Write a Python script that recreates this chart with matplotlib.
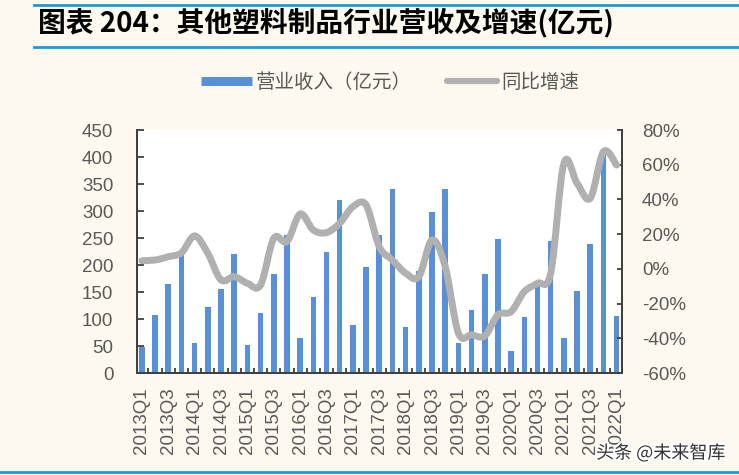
import numpy as np
import matplotlib
matplotlib.use("Agg")
import matplotlib.pyplot as plt
from matplotlib.path import Path
from matplotlib.patches import PathPatch
from matplotlib.lines import Line2D
import matplotlib.patheffects as pe

plt.rcParams['font.family'] = ['Liberation Sans', 'Noto Sans CJK SC', 'DejaVu Sans']

# quarters 2013Q1 .. 2022Q1
quarters = [f"{y}Q{q}" for y in range(2013, 2023) for q in range(1, 5)][:37]

# 营业收入（亿元）
revenue = [48, 108, 165, 222, 55, 122, 155, 220, 51, 112, 183, 255,
           65, 141, 224, 320, 88, 196, 255, 340, 86, 188, 298, 340,
           55, 117, 183, 248, 41, 103, 163, 245, 64, 151, 238, 407, 106]

# 同比增速（%）
growth = [4.7, 5.1, 7.0, 9.3, 19.0, 9.0, -6.4, -4.5, -8.3, -9.3, 17.6, 15.7,
          31.6, 22.4, 20.9, 26.3, 35.8, 36.8, 12.8, 5.1, -2.5, -4.5, 16.6, 1.3,
          -37.0, -38.0, -38.6, -26.5, -24.6, -13.1, -8.3, -2.5, 60.8, 49.3, 40.7, 67.5, 59.8]

tick_labels = quarters[::2]

bg = '#FEF9EE'
bar_color = '#5890D8'
line_color = '#B0B0B0'
text_gray = '#595959'
axis_color = '#404040'
rule_blue = '#1A9AD8'

fig = plt.figure(figsize=(7.39, 4.75), dpi=100, facecolor=bg)
ax = fig.add_axes([0.1854, 0.2147, 0.6567, 0.5116])
ax.set_facecolor('white')
ax2 = ax.twinx()

x = np.arange(len(revenue))
ax.bar(x, revenue, width=0.42, color=bar_color, zorder=2)
ax.set_xlim(-0.37, len(revenue) - 1 + 0.43)
ax.set_ylim(0, 450)
ax.set_yticks(np.arange(0, 451, 50))

# smooth line (Excel style): cubic bezier through every data point
pts = np.column_stack([x, growth]).astype(float)
verts = [tuple(pts[0])]
codes = [Path.MOVETO]
for i in range(len(pts) - 1):
    p0 = pts[i - 1] if i > 0 else pts[i]
    p1 = pts[i]
    p2 = pts[i + 1]
    p3 = pts[i + 2] if i + 2 < len(pts) else pts[i + 1]
    c1 = p1 + (p2 - p0) / 6.0
    c2 = p2 - (p3 - p1) / 6.0
    verts += [tuple(c1), tuple(c2), tuple(p2)]
    codes += [Path.CURVE4] * 3
curve = PathPatch(Path(verts, codes), facecolor='none', edgecolor=line_color,
                  lw=5, capstyle='round', joinstyle='round', zorder=3)
ax2.add_patch(curve)
ax2.set_ylim(-60, 80)
ax2.set_yticks(np.arange(-60, 81, 20))
ax2.set_yticklabels([f"{v}%" for v in range(-60, 81, 20)])

for a in (ax, ax2):
    a.spines['top'].set_visible(False)
    for s in ('left', 'right', 'bottom'):
        a.spines[s].set_color(axis_color)
        a.spines[s].set_linewidth(1.3)

ax.tick_params(axis='y', direction='in', length=5, width=1.3, color=axis_color,
               labelsize=13.5, labelcolor=text_gray, pad=17)
ax2.tick_params(axis='y', direction='in', length=3.5, width=1.3, color=axis_color,
                labelsize=13.5, labelcolor=text_gray, pad=14)
ax.set_xticks(x[::2])
ax.set_xticklabels(tick_labels, rotation=90)
ax.set_xticks(x[:-1] + 0.5, minor=True)
ax.tick_params(axis='x', which='major', length=0, labelsize=13.5,
               labelcolor=text_gray, pad=10)
ax.tick_params(axis='x', which='minor', direction='in', length=3.5, width=1.3,
               color=axis_color)

# legend
handles = [Line2D([], [], color=bar_color, lw=6.5, solid_capstyle='butt'),
           Line2D([], [], color=line_color, lw=4.5, solid_capstyle='round')]
fig.legend(handles, ['营业收入（亿元）', '同比增速'], loc='center',
           bbox_to_anchor=(0.528, 0.827), ncol=2, frameon=False,
           fontsize=14, labelcolor=text_gray, handlelength=2.6,
           handletextpad=0.2, columnspacing=1.8,
           prop={'family': ['Noto Sans CJK SC', 'DejaVu Sans'], 'size': 14})

# title and rules
fig.text(38 / 739, 1 - 23 / 475, '图表 204：其他塑料制品行业营收及增速(亿元)',
         fontsize=20, fontweight='bold', color='black', va='center', ha='left',
         family=['Noto Sans CJK SC', 'DejaVu Sans'])
fig.add_artist(Line2D([34 / 739, 1], [1 - 5 / 475] * 2, color=rule_blue, lw=2))
fig.add_artist(Line2D([34 / 739, 1], [1 - 46.5 / 475] * 2, color=rule_blue, lw=2))
fig.add_artist(Line2D([0, 1], [1 - 472 / 475] * 2, color=rule_blue, lw=2))

fig.text(725 / 739, 1 - 453 / 475, '头条 @未来智库', fontsize=13, color='#333333',
         ha='right', va='center', family=['Noto Sans CJK SC', 'DejaVu Sans'],
         path_effects=[pe.withStroke(linewidth=3, foreground='white')])

fig.savefig('out.png', dpi=100, facecolor=bg)
